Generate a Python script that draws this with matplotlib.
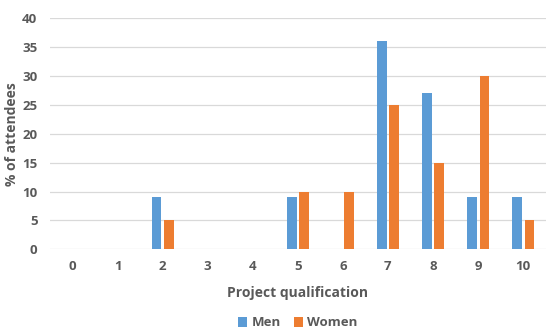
import matplotlib
matplotlib.use("Agg")
import matplotlib.pyplot as plt
import numpy as np

categories = ["0", "1", "2", "3", "4", "5", "6", "7", "8", "9", "10"]
men = [0, 0, 9, 0, 0, 9, 0, 36, 27, 9, 9]
women = [0, 0, 5, 0, 0, 10, 10, 25, 15, 30, 5]
yticks = [0, 5, 10, 15, 20, 25, 30, 35, 40]

plt.rcParams['font.family'] = ['Open Sans', 'DejaVu Sans']
txt = '#595959'

fig = plt.figure(figsize=(5.5, 3.34), dpi=100)
ax = fig.add_axes([50/550, 1-249.3/334, 495.5/550, 231/334])
x = np.arange(len(categories))
w = 0.22
ax.bar(x - 0.135, men, width=w, color='#5B9BD5', label='Men', zorder=3)
ax.bar(x + 0.145, women, width=w, color='#ED7D31', label='Women', zorder=3)

ax.set_xlim(-0.5, 10.5)
ax.set_ylim(0, 40)
ax.set_yticks(yticks)
ax.set_xticks(x)
ax.set_xticklabels(categories)
ax.grid(axis='y', color='#D9D9D9', linewidth=0.9, zorder=0)
for s in ax.spines.values():
    s.set_visible(False)
ax.tick_params(length=0, labelsize=9.5, labelcolor=txt)
ax.tick_params(axis='y', pad=9)
ax.tick_params(axis='x', pad=8)
for lab in ax.get_xticklabels() + ax.get_yticklabels():
    lab.set_fontweight('bold')
ax.set_ylabel('% of attendees', fontsize=10, fontweight='bold', color=txt)
ax.yaxis.set_label_coords(-0.062, 0.5)
ax.set_xlabel('Project qualification', fontsize=10, fontweight='bold', color=txt, labelpad=9)
leg = ax.legend(loc='center', bbox_to_anchor=(0.5, (1-323/334 - (1-249.3/334)) / (231/334)),
                ncol=2, frameon=False, handlelength=0.7, handleheight=0.7, handletextpad=0.3,
                columnspacing=1.0, prop={'weight': 'bold', 'size': 9.5})
for t in leg.get_texts():
    t.set_color(txt)
fig.savefig('out.png', dpi=100)
